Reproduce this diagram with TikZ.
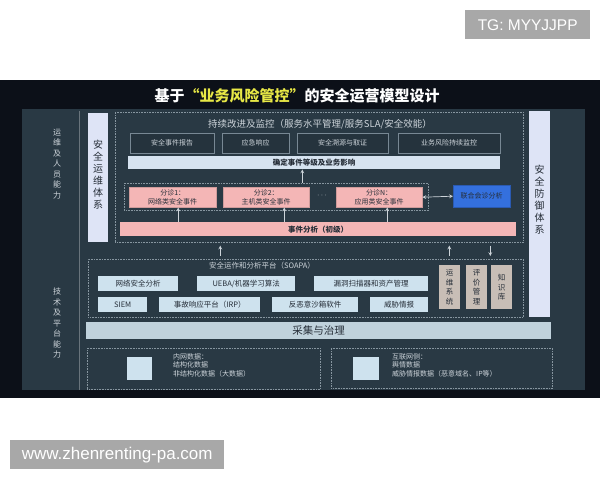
\documentclass[tikz,border=0pt]{standalone}
\usepackage{fontspec}
\setmainfont{Liberation Sans}
\newfontfamily\cjk{Noto Sans CJK SC}
\usetikzlibrary{positioning, calc, arrows.meta}
\definecolor{outerdark}{RGB}{12,16,24}
\definecolor{slidebg}{RGB}{41,57,68}
\definecolor{boxbg}{RGB}{37,51,61}
\definecolor{boxline}{RGB}{120,136,148}
\definecolor{dotline}{RGB}{135,150,160}
\definecolor{paletext}{RGB}{205,212,218}
\definecolor{inktext}{RGB}{38,46,56}
\definecolor{titleyellow}{RGB}{232,232,70}
\definecolor{barblue}{RGB}{214,227,240}
\definecolor{triagepink}{RGB}{244,182,182}
\definecolor{jointblue}{RGB}{52,112,222}
\definecolor{toolblue}{RGB}{206,226,238}
\definecolor{tooltan}{RGB}{200,190,182}
\definecolor{sysviolet}{RGB}{222,228,246}
\definecolor{collectbar}{RGB}{192,210,220}
\definecolor{wmgray}{RGB}{168,168,168}
\tikzset{
    sidelabel/.style={
        text=paletext, align=center, font=\cjk\fontsize{8}{10.5}\selectfont
    },
    dotframe/.style={
        draw=dotline, dash pattern=on 0.8pt off 0.8pt, line width=0.6pt,
        inner sep=0pt, anchor=north west
    },
    frametitle/.style={
        text=paletext, font=\cjk\fontsize{9.5}{11}\selectfont
    },
    flowarrow/.style={
        ->, >=stealth, line width=0.7pt, draw=paletext
    },
    wmark/.style={
        fill=wmgray, text=white, inner sep=0pt, anchor=north west
    }
}

\begin{document}
\begin{tikzpicture}[
        x=1pt, y=-1pt,
        % Style cho hop trong khung tren
        taskbox/.style={
            draw=boxline, fill=boxbg, text=paletext, inner sep=0pt,
            anchor=north west, font=\cjk\fontsize{7}{8}\selectfont
        },
        % Style cho thanh ngang
        widebar/.style={
            fill=#1, inner sep=0pt, anchor=north west, text=inktext,
            font=\cjk\bfseries\fontsize{7.5}{9}\selectfont
        },
        % Style cho hop phan loai
        triagebox/.style={
            fill=triagepink, draw=triagepink!85!black, text=inktext,
            inner sep=0pt, anchor=north west, align=center,
            font=\cjk\fontsize{7}{8.5}\selectfont
        },
        % Style cho cong cu SOAPA
        toolbox/.style={
            fill=toolblue, inner sep=0pt, anchor=north west, text=inktext,
            font=\cjk\fontsize{7.5}{9}\selectfont
        },
        knowbox/.style={
            fill=tooltan, inner sep=0pt, anchor=north west, align=center,
            text=inktext, minimum width=21, minimum height=44,
            font=\cjk\fontsize{7.5}{9.5}\selectfont
        },
        sysbar/.style={
            fill=sysviolet, inner sep=0pt, anchor=north west
        },
        systext/.style={
            text=inktext, align=center, font=\cjk\fontsize{10}{12}\selectfont
        },
        datanote/.style={
            anchor=north west, align=left, text=paletext, inner sep=0pt,
            font=\cjk\fontsize{7}{8.5}\selectfont
        }
    ]

        % ==========================================
        % NEN VA TIEU DE
        % ==========================================
        \useasboundingbox (0,0) rectangle (600,480);
        \fill[white] (0,0) rectangle (600,480);
        \fill[outerdark] (0,80) rectangle (600,398);
        \fill[slidebg] (22,109) rectangle (585,390);
        \draw[slidebg!70!white, line width=0.5pt] (79,111) -- (79,390);

        \node[font=\cjk\bfseries\fontsize{15}{17}\selectfont] (title) at (297,96)
            {\color{white}基于\color{titleyellow}“业务风险管控”\color{white}的安全运营模型设计};

        % Nhan ben trai
        \node[sidelabel] (opsability) at (57,164) {运\\维\\及\\人\\员\\能\\力};
        \node[sidelabel] (techability) at (57,323) {技\\术\\及\\平\\台\\能\\力};

        % Thanh doc
        \node[sysbar, minimum width=20, minimum height=129] (opssys) at (88,113) {};
        \node[systext] at ([yshift=3pt]opssys.center) {安\\全\\运\\维\\体\\系};
        \node[sysbar, minimum width=21, minimum height=206] (defsys) at (529,111) {};
        \node[systext] at ([yshift=15pt]defsys.center) {安\\全\\防\\御\\体\\系};

        % ==========================================
        % KHUNG TREN: GIAM SAT VA PHAN TICH
        % ==========================================
        \node[dotframe, minimum width=408, minimum height=130] (upper) at (115,112) {};
        \node[frametitle] (upperttl) at (320,124) {持续改进及监控（服务水平管理/服务SLA/安全效能）};

        \node[taskbox, minimum width=84, minimum height=20] (report) at (130,133) {安全事件报告};
        \node[taskbox, minimum width=67, minimum height=20] (respond) at (222,133) {应急响应};
        \node[taskbox, minimum width=91, minimum height=20] (forensic) at (297,133) {安全溯源与取证};
        \node[taskbox, minimum width=102, minimum height=20] (monitor) at (398,133) {业务风险持续监控};

        \node[widebar=barblue, minimum width=372, minimum height=13] (level) at (128,156) {确定事件等级及业务影响};

        \node[dotframe, minimum width=304, minimum height=27] (triage) at (124,183) {};
        \node[triagebox, minimum width=87, minimum height=20] (tri1) at (129,187) {分诊1：\\网络类安全事件};
        \node[triagebox, minimum width=86, minimum height=20] (tri2) at (223,187) {分诊2：\\主机类安全事件};
        \node[text=paletext, font=\fontsize{8}{9}\selectfont] (dots) at (322,196) {$\cdots$};
        \node[triagebox, minimum width=86, minimum height=20] (triN) at (336,187) {分诊N：\\应用类安全事件};
        \node[triagebox, fill=jointblue, draw=jointblue!80!black, minimum width=57, minimum height=22] (joint) at (453,185) {联合会诊分析};

        \node[widebar=triagepink, minimum width=396, minimum height=14] (analysis) at (120,222) {事件分析（初级）};

        % Mui ten trong khung tren
        \draw[flowarrow] ([xshift=26pt]triage.north) -- ([xshift=26pt]triage.north |- level.south);
        \draw[flowarrow] ([xshift=5.5pt]tri1.south |- analysis.north) -- ([xshift=5.5pt]tri1.south);
        \draw[flowarrow] ([xshift=18pt]tri2.south |- analysis.north) -- ([xshift=18pt]tri2.south);
        \draw[flowarrow] ([xshift=8pt]triN.south |- analysis.north) -- ([xshift=8pt]triN.south);
        \draw[flowarrow, <->] (triN.east) -- (joint.west);

        % ==========================================
        % KHUNG DUOI: NEN TANG SOAPA
        % ==========================================
        \node[dotframe, minimum width=435, minimum height=58] (lower) at (88,259) {};
        \node[frametitle, font=\cjk\fontsize{7.5}{9}\selectfont] (lowerttl) at (262,266) {安全运作和分析平台（SOAPA）};

        \node[toolbox, minimum width=80, minimum height=15] (netana) at (98,276) {网络安全分析};
        \node[toolbox, minimum width=98, minimum height=15] (ueba) at (197,276) {UEBA/机器学习算法};
        \node[toolbox, minimum width=114, minimum height=15] (vulscan) at (314,276) {漏洞扫描器和资产管理};
        \node[toolbox, minimum width=49, minimum height=15] (siem) at (98,297) {SIEM};
        \node[toolbox, minimum width=101, minimum height=15] (irp) at (159,297) {事故响应平台（IRP）};
        \node[toolbox, minimum width=86, minimum height=15] (sandbox) at (272,297) {反恶意沙箱软件};
        \node[toolbox, minimum width=58, minimum height=15] (intel) at (370,297) {威胁情报};

        \node[knowbox] (opsbox) at (439,265) {运\\维\\系\\统};
        \node[knowbox] (evalbox) at (466,265) {评\\价\\管\\理};
        \node[knowbox] (kbbox) at (491,265) {知\\识\\库};

        % Mui ten giua hai khung
        \draw[flowarrow, shorten <=3pt, shorten >=3pt] ([xshift=-85.5pt]lower.north) -- ([xshift=-85.5pt]lower.north |- upper.south);
        \draw[flowarrow, shorten <=3pt, shorten >=3pt] ([xshift=143.5pt]lower.north) -- ([xshift=143.5pt]lower.north |- upper.south);
        \draw[flowarrow, shorten <=3pt, shorten >=3pt] ([xshift=184.5pt]lower.north |- upper.south) -- ([xshift=184.5pt]lower.north);

        % ==========================================
        % THU THAP VA NGUON DU LIEU
        % ==========================================
        \node[widebar=collectbar, font=\cjk\fontsize{10.5}{12}\selectfont, minimum width=465, minimum height=17] (collect) at (86,322) {采集与治理};

        \node[dotframe, minimum width=233, minimum height=41] (intranet) at (87,348) {};
        \fill[toolblue] (127,357) rectangle (152,380);
        \node[datanote] (intranote) at (173,353) {内网数据：\\结构化数据\\非结构化数据（大数据）};

        \node[dotframe, minimum width=221, minimum height=40] (internet) at (331,348) {};
        \fill[toolblue] (353,357) rectangle (379,380);
        \node[datanote] (internote) at (392,353) {互联网侧：\\舆情数据\\威胁情报数据（恶意域名、IP等）};

        % Nhan hinh mo
        \node[wmark, minimum width=125, minimum height=29, font=\fontsize{15.5}{17}\selectfont] (wmtg) at (465,10) {TG: MYYJJPP};
        \node[wmark, minimum width=214, minimum height=29, font=\fontsize{17}{19}\selectfont] (wmsite) at (10,440) {www.zhenrenting-pa.com};

    \end{tikzpicture}
\end{document}
